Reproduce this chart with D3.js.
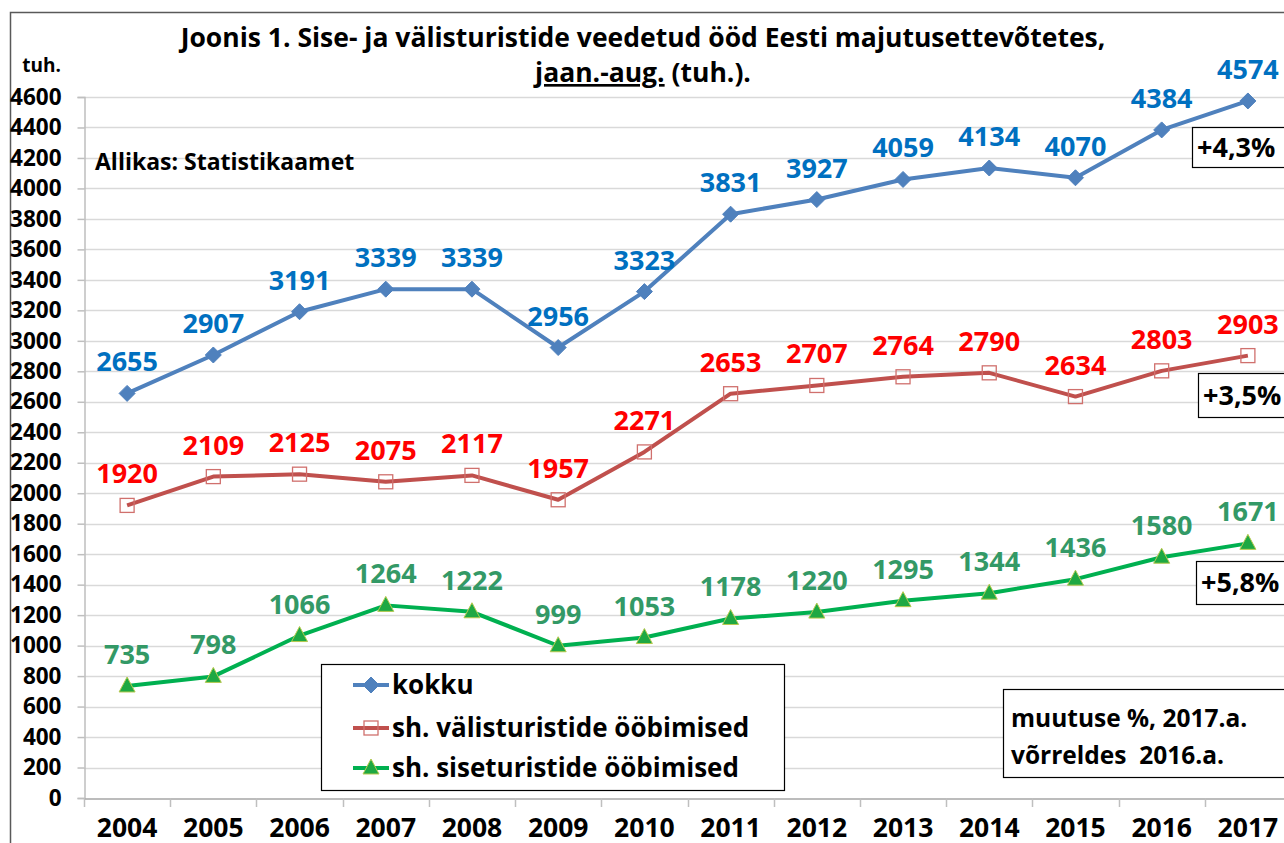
<!DOCTYPE html>
<html>
<head>
<meta charset="utf-8">
<script src="https://cdn.jsdelivr.net/npm/d3@7"></script>
<style>
  html, body { margin: 0; padding: 0; background: #fff; }
  svg { display: block; }
  text { font-family: "Open Sans", "Liberation Sans", sans-serif; font-weight: bold; }
</style>
</head>
<body>
<svg id="chart" width="1284" height="843"></svg>
<script>
const years = ["2004","2005","2006","2007","2008","2009","2010","2011","2012","2013","2014","2015","2016","2017"];
const kokku = [2655, 2907, 3191, 3339, 3339, 2956, 3323, 3831, 3927, 4059, 4134, 4070, 4384, 4574];
const valis = [1920, 2109, 2125, 2075, 2117, 1957, 2271, 2653, 2707, 2764, 2790, 2634, 2803, 2903];
const sise  = [735, 798, 1066, 1264, 1222, 999, 1053, 1178, 1220, 1295, 1344, 1436, 1580, 1671];
const yTicks = [0,200,400,600,800,1000,1200,1400,1600,1800,2000,2200,2400,2600,2800,3000,3200,3400,3600,3800,4000,4200,4400,4600];
const seriesNames = ["kokku", "sh. välisturistide ööbimised", "sh. siseturistide ööbimised"];
const changes = ["+4,3%", "+3,5%", "+5,8%"];

const svg = d3.select("#chart");

// outer chart border
svg.append("rect").attr("x", 10.5).attr("y", 12.5).attr("width", 1290).attr("height", 860)
  .attr("fill", "#fff").attr("stroke", "#595959").attr("stroke-width", 1.5);

const x = d3.scaleBand().domain(years).range([84, 1291]).padding(0);
const y = d3.scaleLinear().domain([0, 4600]).range([798, 97]);
const cx = d => x(d) + x.bandwidth() / 2;

// gridlines
svg.append("g").selectAll("line").data(yTicks.filter(t => t > 0)).join("line")
  .attr("x1", 84).attr("x2", 1291)
  .attr("y1", d => Math.round(y(d)) + 0.5).attr("y2", d => Math.round(y(d)) + 0.5)
  .attr("stroke", "#d9d9d9").attr("stroke-width", 1.5);

// y axis
const yAxis = d3.axisLeft(y).tickValues(yTicks).tickSize(7).tickPadding(16).tickFormat(d3.format("d"));
const gy = svg.append("g").attr("transform", "translate(84.5,0)").call(yAxis);
gy.select(".domain").attr("stroke", "#bfbfbf").attr("stroke-width", 1.5);
gy.selectAll(".tick line").attr("stroke", "#bfbfbf").attr("stroke-width", 1.5);
gy.selectAll(".tick text").attr("font-size", 22.5).attr("fill", "#000").attr("x", -23)
  .attr("font-family", "'Open Sans', sans-serif");

// x axis
const xAxis = d3.axisBottom(x).tickSize(0).tickPadding(0);
const gx = svg.append("g").attr("transform", "translate(0,798.5)").call(xAxis);
gx.select(".domain").attr("stroke", "#a6a6a6").attr("stroke-width", 1.5);
gx.selectAll(".tick text").attr("font-size", 26.5).attr("fill", "#000").attr("y", 38).attr("dy", 0)
  .attr("font-family", "'Open Sans', sans-serif");
// boundary ticks
svg.append("g").selectAll("line").data(years).join("line")
  .attr("x1", d => Math.round(x(d)) + 0.5).attr("x2", d => Math.round(x(d)) + 0.5)
  .attr("y1", 798).attr("y2", 807)
  .attr("stroke", "#bfbfbf").attr("stroke-width", 1.5);

// series
const series = [
  { values: kokku, line: "#4f81bd", label: "#0070c0", marker: "diamond" },
  { values: valis, line: "#c0504d", label: "#ff0000", marker: "square" },
  { values: sise,  line: "#00b050", label: "#339966", marker: "triangle" }
];

const lineGen = d3.line().x((d, i) => cx(years[i])).y(d => y(d));

function drawMarker(g, type, px, py) {
  if (type === "diamond") {
    g.append("path").attr("d", "M0,-8L8,0L0,8L-8,0Z")
      .attr("transform", `translate(${px},${py})`)
      .attr("fill", "#4f81bd").attr("stroke", "#4f81bd");
  } else if (type === "square") {
    g.append("rect").attr("x", px - 7).attr("y", py - 7).attr("width", 14).attr("height", 14)
      .attr("fill", "none").attr("stroke", "#d0706d").attr("stroke-width", 1.3);
  } else {
    g.append("path").attr("d", "M0,-9L8,6L-8,6Z")
      .attr("transform", `translate(${px},${py})`)
      .attr("fill", "#1ea843").attr("stroke", "#b6c94e").attr("stroke-width", 1);
  }
}

series.forEach(s => {
  svg.append("path").datum(s.values).attr("d", lineGen)
    .attr("fill", "none").attr("stroke", s.line).attr("stroke-width", 4)
    .attr("stroke-linejoin", "round");
  const mg = svg.append("g");
  s.values.forEach((v, i) => drawMarker(mg, s.marker, cx(years[i]), y(v)));
  svg.append("g").selectAll("text").data(s.values).join("text")
    .attr("x", (d, i) => cx(years[i]))
    .attr("y", d => y(d) - 22)
    .attr("text-anchor", "middle").attr("font-size", 27).attr("fill", s.label)
    .text(d => d);
});

// title
svg.append("text").attr("x", 643).attr("y", 47).attr("text-anchor", "middle").attr("font-size", 26.5)
  .text("Joonis 1. Sise- ja välisturistide veedetud ööd Eesti majutusettevõtetes,");
const t2 = svg.append("text").attr("x", 643).attr("y", 82).attr("text-anchor", "middle").attr("font-size", 26.5);
t2.append("tspan").attr("text-decoration", "underline").text("jaan.-aug.");
t2.append("tspan").text(" (tuh.).");

svg.append("text").attr("x", 61).attr("y", 72).attr("text-anchor", "end").attr("font-size", 19).text("tuh.");
svg.append("text").attr("x", 95).attr("y", 170).attr("font-size", 23).text("Allikas: Statistikaamet");

// legend
const lg = svg.append("g");
lg.append("rect").attr("x", 321.5).attr("y", 664.5).attr("width", 463).attr("height", 126)
  .attr("fill", "#fff").attr("stroke", "#000").attr("stroke-width", 1.2);
const legRows = [685, 728, 768];
series.forEach((s, i) => {
  lg.append("line").attr("x1", 353).attr("x2", 389).attr("y1", legRows[i]).attr("y2", legRows[i])
    .attr("stroke", s.line).attr("stroke-width", 4);
  drawMarker(lg, s.marker, 371, legRows[i]);
  lg.append("text").attr("x", 392).attr("y", legRows[i] + 9).attr("font-size", 26).text(seriesNames[i]);
});

// change boxes
const boxes = [
  { x: 1192, y: 127, h: 40, base: 157 },
  { x: 1198, y: 373, h: 44, base: 405 },
  { x: 1196, y: 561, h: 43, base: 592 }
];
boxes.forEach((b, i) => {
  svg.append("rect").attr("x", b.x + 0.5).attr("y", b.y + 0.5).attr("width", 120).attr("height", b.h)
    .attr("fill", "#fff").attr("stroke", "#000").attr("stroke-width", 1.2);
  svg.append("text").attr("x", b.x + 5).attr("y", b.base).attr("font-size", 27).text(changes[i]);
});

svg.append("rect").attr("x", 1003.5).attr("y", 689.5).attr("width", 300).attr("height", 88)
  .attr("fill", "#fff").attr("stroke", "#000").attr("stroke-width", 1.2);
svg.append("text").attr("x", 1011).attr("y", 727).attr("font-size", 24.5).text("muutuse %, 2017.a.");
svg.append("text").attr("x", 1011).attr("y", 764).attr("font-size", 24.5).attr("xml:space", "preserve").text("võrreldes  2016.a.");
</script>
</body>
</html>
